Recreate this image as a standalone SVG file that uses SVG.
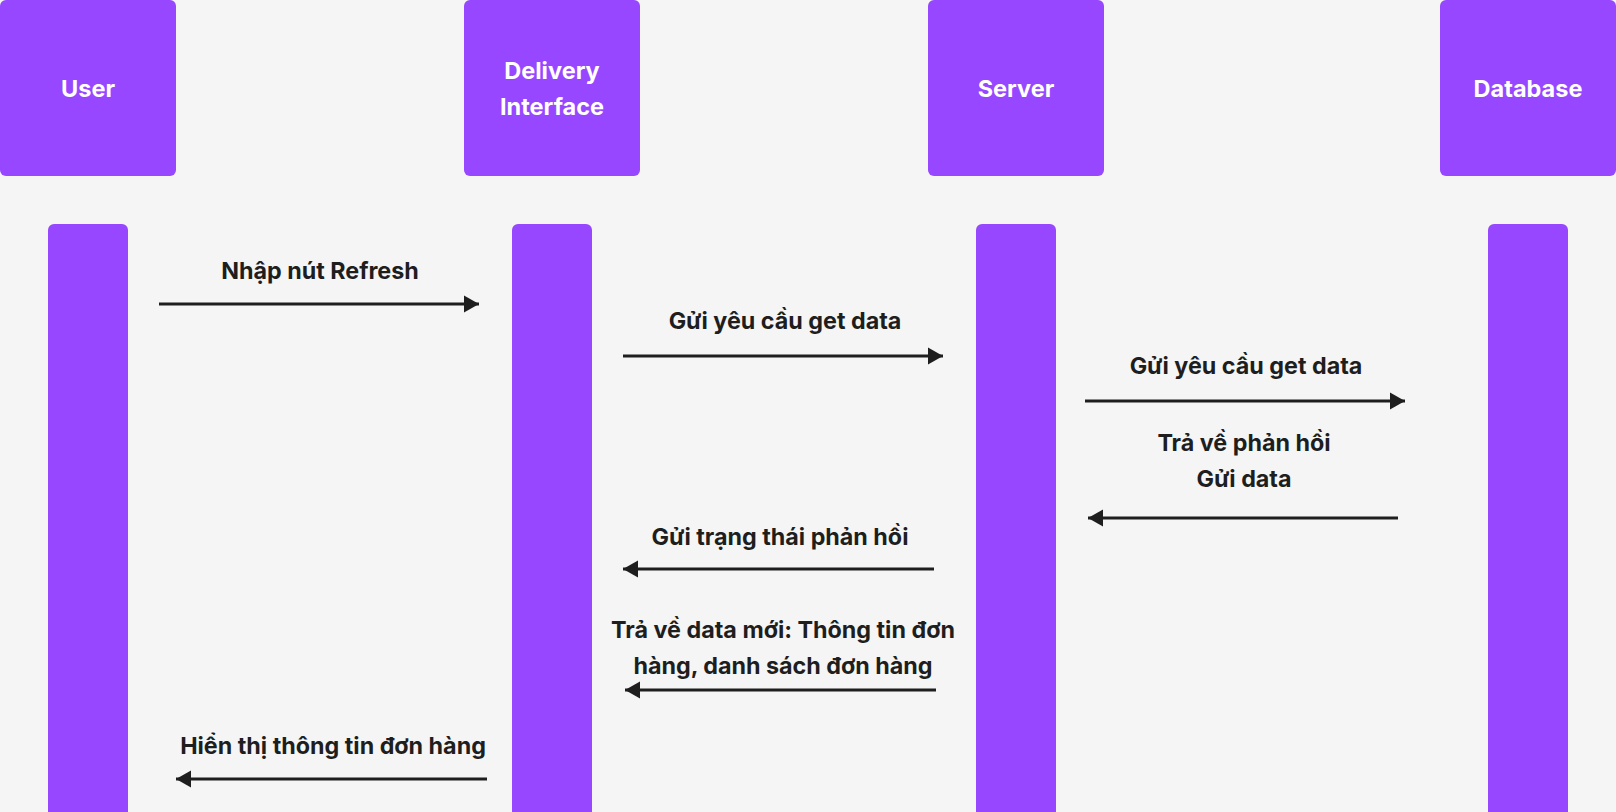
<svg xmlns="http://www.w3.org/2000/svg" width="1616" height="812" viewBox="0 0 1616 812">
<style>
.hdr{fill:#9747FF}
.life{fill:#9747FF}
.ht{font-family:Inter,"Liberation Sans",sans-serif;font-weight:700;font-size:23.5px;fill:#FFFFFF;text-anchor:middle}
.mt{font-family:Inter,"Liberation Sans",sans-serif;font-weight:700;font-size:23.3px;fill:#1E1E1E;text-anchor:middle}
.msg{stroke:#1E1E1E;stroke-width:3;fill:none}
</style>
<defs>
<marker id="ah" markerUnits="userSpaceOnUse" markerWidth="16" markerHeight="18" viewBox="0 0 16 18" refX="15" refY="9" orient="auto">
<path d="M0,0.5 L15,9 L0,17.5 Z" fill="#1E1E1E"/>
</marker>
</defs>
<rect width="1616" height="812" fill="#F5F5F5"/>
<g id="user">
<rect class="hdr" x="0" y="0" width="176" height="176" rx="6"/>
<text class="ht" x="88" y="97">User</text>
<rect class="life" x="48" y="224" width="80" height="600" rx="6"/>
</g>
<g id="delivery-interface">
<rect class="hdr" x="464" y="0" width="176" height="176" rx="6"/>
<text class="ht" x="552" y="79">Delivery</text>
<text class="ht" x="552" y="115">Interface</text>
<rect class="life" x="512" y="224" width="80" height="600" rx="6"/>
</g>
<g id="server">
<rect class="hdr" x="928" y="0" width="176" height="176" rx="6"/>
<text class="ht" x="1016" y="97">Server</text>
<rect class="life" x="976" y="224" width="80" height="600" rx="6"/>
</g>
<g id="database">
<rect class="hdr" x="1440" y="0" width="176" height="176" rx="6"/>
<text class="ht" x="1528" y="97">Database</text>
<rect class="life" x="1488" y="224" width="80" height="600" rx="6"/>
</g>
<g id="connectors">
<line class="msg" x1="159" y1="304" x2="479" y2="304" marker-end="url(#ah)"/>
<line class="msg" x1="623" y1="356" x2="943" y2="356" marker-end="url(#ah)"/>
<line class="msg" x1="1085" y1="401" x2="1405" y2="401" marker-end="url(#ah)"/>
<line class="msg" x1="1398" y1="518" x2="1088" y2="518" marker-end="url(#ah)"/>
<line class="msg" x1="934" y1="569" x2="623" y2="569" marker-end="url(#ah)"/>
<line class="msg" x1="936" y1="690" x2="625" y2="690" marker-end="url(#ah)"/>
<line class="msg" x1="487" y1="779" x2="176" y2="779" marker-end="url(#ah)"/>
</g>
<g id="labels">
<text class="mt" x="320" y="279">Nhập nút Refresh</text>
<text class="mt" x="785" y="329">Gửi yêu cầu get data</text>
<text class="mt" x="1246" y="374">Gửi yêu cầu get data</text>
<text class="mt" x="1244" y="451">Trả về phản hồi</text>
<text class="mt" x="1244" y="487">Gửi data</text>
<text class="mt" x="780" y="545">Gửi trạng thái phản hồi</text>
<text class="mt" x="783" y="638">Trả về data mới: Thông tin đơn</text>
<text class="mt" x="783" y="674">hàng, danh sách đơn hàng</text>
<text class="mt" x="333" y="754">Hiển thị thông tin đơn hàng</text>
</g>
</svg>
